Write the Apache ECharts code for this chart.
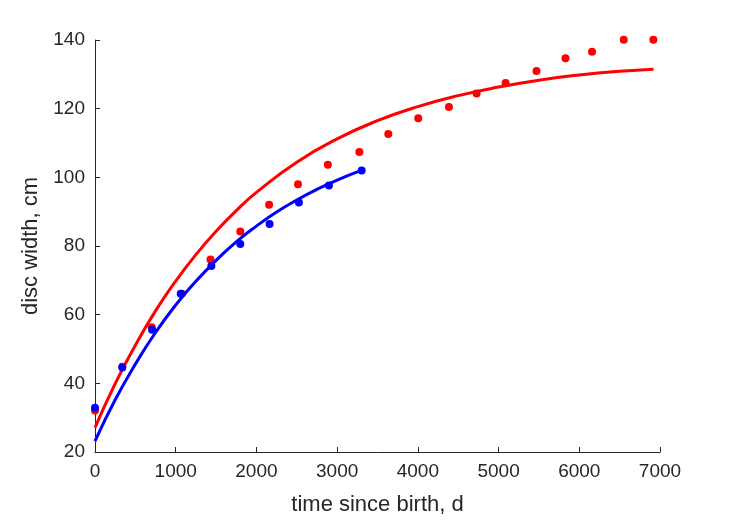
<!DOCTYPE html>
<html>
<head>
<meta charset="utf-8">
<script src="https://cdn.jsdelivr.net/npm/echarts@6/dist/echarts.min.js"></script>
<style>html,body{margin:0;padding:0;background:#fff;}#c{width:729px;height:521px;}</style>
</head>
<body>
<div id="c"></div>
<script>
var redObsT = [0, 338, 702, 1077, 1431, 1800, 2157, 2515, 2885, 3275, 3634, 4005, 4385, 4728, 5087, 5470, 5829, 6158, 6551, 6918];
var redObsW = [32.1, 44.8, 56.3, 66.1, 76.1, 84.2, 92.0, 98.0, 103.7, 107.4, 112.6, 117.2, 120.5, 124.4, 127.5, 131.0, 134.7, 136.6, 140.1, 140.1];
var blueObsT = [0, 338, 707, 1062, 1442, 1800, 2163, 2526, 2898, 3304];
var blueObsW = [32.9, 44.6, 55.6, 66.1, 74.2, 80.6, 86.4, 92.7, 97.6, 102.0];
// Fitted curves
var redFitT = [0, 250, 500, 750, 1000, 1250, 1500, 1750, 2000, 2500, 3000, 3500, 4000, 4500, 5000, 5500, 6000, 6500, 6920];
var redFitW = [27.1, 39.9, 51.1, 61.1, 69.8, 77.5, 84.3, 90.3, 95.6, 104.4, 111.2, 116.5, 120.6, 123.8, 126.3, 128.3, 129.8, 130.9, 131.5];
var blueFitT = [0, 250, 500, 750, 1000, 1250, 1500, 1750, 2000, 2250, 2500, 2750, 3000, 3300];
var blueFitW = [23.2, 35.2, 45.6, 54.8, 62.8, 69.7, 75.8, 81.2, 85.8, 89.9, 93.4, 96.5, 99.2, 102.0];
var xTicks = [0, 1000, 2000, 3000, 4000, 5000, 6000, 7000];
var yTicks = [20, 40, 60, 80, 100, 120, 140];

function pairs(a, b) { return a.map(function (v, i) { return [v, b[i]]; }); }

var chart = echarts.init(document.getElementById('c'), null, {renderer: 'canvas'});
var txt = '#262626';
var fontFam = '"Liberation Sans", Arial, sans-serif';
chart.setOption({
  animation: false,
  backgroundColor: '#ffffff',
  grid: {left: 95, right: 69, top: 40, bottom: 68},
  xAxis: {
    type: 'value', min: xTicks[0], max: xTicks[xTicks.length - 1], interval: 1000,
    name: 'time since birth, d', nameLocation: 'middle', nameGap: 42,
    nameTextStyle: {color: txt, fontSize: 22, fontFamily: fontFam},
    axisLine: {show: true, lineStyle: {color: txt, width: 1}},
    axisTick: {show: true, inside: true, length: 5, lineStyle: {color: txt}},
    axisLabel: {color: txt, fontSize: 19, fontFamily: fontFam, margin: 10, formatter: function (v) { return String(v); }},
    splitLine: {show: false}
  },
  yAxis: {
    type: 'value', min: yTicks[0], max: yTicks[yTicks.length - 1], interval: 20,
    name: 'disc width, cm', nameLocation: 'middle', nameGap: 47,
    nameTextStyle: {color: txt, fontSize: 22, fontFamily: fontFam},
    axisLine: {show: true, lineStyle: {color: txt, width: 1}},
    axisTick: {show: true, inside: true, length: 5, lineStyle: {color: txt}},
    axisLabel: {color: txt, fontSize: 19, fontFamily: fontFam, margin: 10, formatter: function (v) { return String(v); }},
    splitLine: {show: false}
  },
  series: [
    {type: 'scatter', data: pairs(redObsT, redObsW), symbolSize: 8, clip: false, itemStyle: {color: '#ff0000', opacity: 1}, z: 2},
    {type: 'line', data: pairs(redFitT, redFitW), smooth: true, showSymbol: false, symbol: 'none', clip: false, lineStyle: {color: '#ff0000', width: 3}, z: 3},
    {type: 'scatter', data: pairs(blueObsT, blueObsW), symbolSize: 8, clip: false, itemStyle: {color: '#0000ff', opacity: 1}, z: 4},
    {type: 'line', data: pairs(blueFitT, blueFitW), smooth: true, showSymbol: false, symbol: 'none', clip: false, lineStyle: {color: '#0000ff', width: 3}, z: 5}
  ]
});
</script>
</body>
</html>
